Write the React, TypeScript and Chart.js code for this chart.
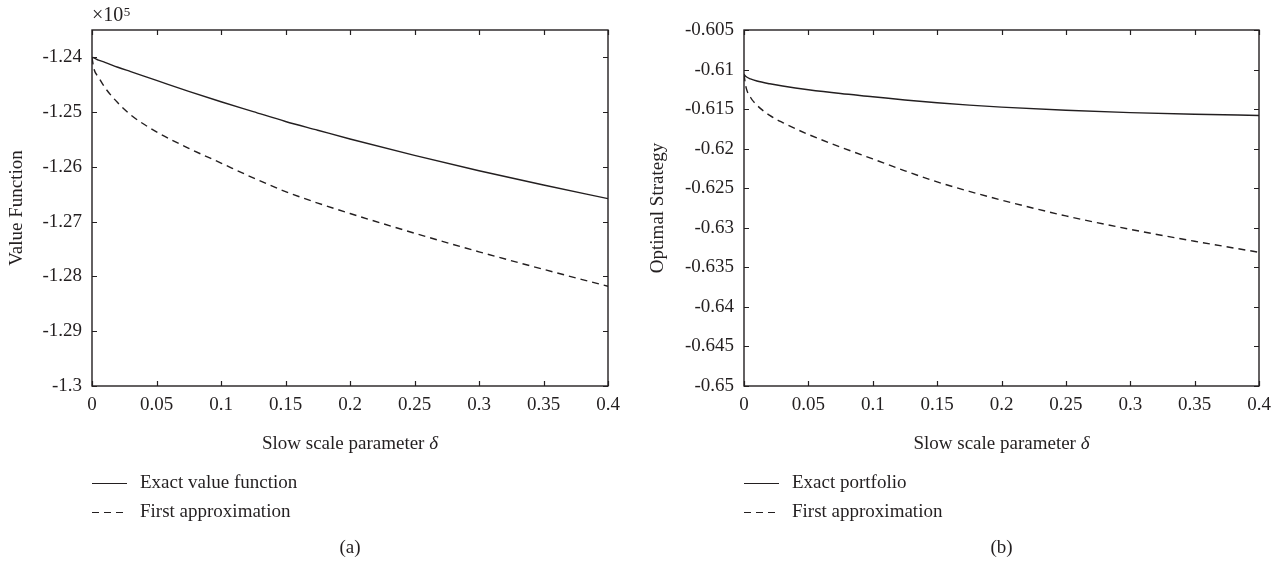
import React, { useEffect, useRef } from "react";
import { Chart, registerables } from "chart.js";

Chart.register(...registerables);

// ---------- data ----------
const deltaValues = [0, 0.0015, 0.005, 0.01, 0.02, 0.03, 0.05, 0.075, 0.1, 0.125, 0.15, 0.175, 0.2, 0.25, 0.3, 0.35, 0.4];

// panel (a): value function, in units of 10^5
const exactValueFunction = [-1.24, -1.2401, -1.2405, -1.2409, -1.2418, -1.2426, -1.2442, -1.2462, -1.2481, -1.2499, -1.2517, -1.2533, -1.2549, -1.2579, -1.2607, -1.2633, -1.2658];
const firstApproxValue = [-1.24, -1.2421, -1.2436, -1.2455, -1.2483, -1.2505, -1.2536, -1.2566, -1.2593, -1.262, -1.2645, -1.2666, -1.2685, -1.2721, -1.2755, -1.2787, -1.2818];

// panel (b): optimal strategy
const exactPortfolio = [-0.6106, -0.61088, -0.61118, -0.61145, -0.6118, -0.61208, -0.61255, -0.61303, -0.61343, -0.61385, -0.6142, -0.6145, -0.61475, -0.61515, -0.61545, -0.61565, -0.6158];
const firstApproxPortfolio = [-0.6106, -0.6122, -0.6135, -0.6145, -0.6158, -0.6167, -0.6182, -0.6198, -0.6213, -0.6228, -0.6242, -0.6254, -0.6265, -0.6285, -0.6302, -0.6317, -0.6331];

const xTicks = [0, 0.05, 0.1, 0.15, 0.2, 0.25, 0.3, 0.35, 0.4];
const yTicksA = [-1.3, -1.29, -1.28, -1.27, -1.26, -1.25, -1.24];
const yTicksB = [-0.65, -0.645, -0.64, -0.635, -0.63, -0.625, -0.62, -0.615, -0.61, -0.605];

const legendA = ["Exact value function", "First approximation"];
const legendB = ["Exact portfolio", "First approximation"];

// ---------- styling ----------
const FONT = '"Liberation Serif", "Times New Roman", serif';
const INK = "#231f20";
const DASH = [7, 5];

const fmt = (v: number) => {
  const s = parseFloat(Number(v).toFixed(4)).toString();
  return s === "-0" ? "0" : s;
};

const decorPlugin = {
  id: "decor",
  afterDraw(chart: any, _args: any, opts: any) {
    const { ctx, chartArea: a, scales } = chart;
    const xs = scales.x;
    const ys = scales.y;
    ctx.save();
    // box
    ctx.strokeStyle = INK;
    ctx.lineWidth = 1.4;
    ctx.setLineDash([]);
    ctx.strokeRect(a.left, a.top, a.right - a.left, a.bottom - a.top);
    // inward ticks
    ctx.lineWidth = 1.2;
    const tl = 5;
    ctx.beginPath();
    for (const v of opts.xTicks) {
      const px = Math.round(xs.getPixelForValue(v)) + 0.5;
      ctx.moveTo(px, a.bottom);
      ctx.lineTo(px, a.bottom - tl);
      ctx.moveTo(px, a.top);
      ctx.lineTo(px, a.top + tl);
    }
    for (const v of opts.yTicks) {
      const py = Math.round(ys.getPixelForValue(v)) + 0.5;
      ctx.moveTo(a.left, py);
      ctx.lineTo(a.left + tl, py);
      ctx.moveTo(a.right, py);
      ctx.lineTo(a.right - tl, py);
    }
    ctx.stroke();

    const cx = (a.left + a.right) / 2;
    ctx.fillStyle = INK;
    ctx.textBaseline = "middle";

    // x title with italic delta
    const normal = "19px " + FONT;
    const italic = "italic 19px " + FONT;
    const t1 = "Slow scale parameter ";
    const t2 = "\u03b4";
    ctx.font = normal;
    const w1 = ctx.measureText(t1).width;
    ctx.font = italic;
    const w2 = ctx.measureText(t2).width;
    const sx = cx - (w1 + w2) / 2;
    ctx.textAlign = "left";
    ctx.font = normal;
    ctx.fillText(t1, sx, opts.xTitleY);
    ctx.font = italic;
    ctx.fillText(t2, sx + w1, opts.xTitleY);

    // legend
    const ds = chart.data.datasets;
    ds.forEach((d: any, i: number) => {
      const ly = opts.legendY + i * opts.legendGap;
      ctx.beginPath();
      ctx.lineWidth = 1.2;
      ctx.setLineDash(d.borderDash || []);
      ctx.moveTo(a.left, Math.round(ly) + 0.5);
      ctx.lineTo(a.left + 35, Math.round(ly) + 0.5);
      ctx.stroke();
      ctx.setLineDash([]);
      ctx.font = normal;
      ctx.textAlign = "left";
      ctx.fillText(d.label, a.left + 48, ly);
    });

    // caption
    ctx.textAlign = "center";
    ctx.font = normal;
    ctx.fillText(opts.caption, cx, opts.captionY);

    // exponent
    if (opts.exponent) {
      ctx.textAlign = "left";
      ctx.textBaseline = "alphabetic";
      ctx.font = "20px " + FONT;
      const base = "\u00d710";
      ctx.fillText(base, a.left, 21);
      const bw = ctx.measureText(base).width;
      ctx.font = "13px " + FONT;
      ctx.fillText(opts.exponent, a.left + bw + 0.5, 16);
    }
    ctx.restore();
  },
};

type PanelProps = {
  left: number;
  width: number;
  yAxisWidth: number;
  rightPad: number;
  seriesA: number[];
  seriesB: number[];
  labels: string[];
  yTicks: number[];
  yMin: number;
  yMax: number;
  yTitle: string;
  caption: string;
  exponent?: string;
};

function Panel(p: PanelProps) {
  const ref = useRef<HTMLCanvasElement | null>(null);
  useEffect(() => {
    if (!ref.current) return;
    const toPts = (arr: number[]) => deltaValues.map((x, i) => ({ x, y: arr[i] }));
    const chart = new Chart(ref.current, {
      type: "line",
      data: {
        datasets: [
          {
            label: p.labels[0],
            data: toPts(p.seriesA),
            borderColor: INK,
            borderWidth: 1.4,
            pointRadius: 0,
            cubicInterpolationMode: "monotone",
            fill: false,
          },
          {
            label: p.labels[1],
            data: toPts(p.seriesB),
            borderColor: INK,
            borderWidth: 1.4,
            borderDash: DASH,
            pointRadius: 0,
            cubicInterpolationMode: "monotone",
            fill: false,
          },
        ],
      },
      options: {
        responsive: false,
        animation: false,
        events: [],
        layout: { padding: { left: 0, top: 30, right: p.rightPad, bottom: 0 } },
        plugins: {
          legend: { display: false },
          tooltip: { enabled: false },
          decor: {
            xTicks,
            yTicks: p.yTicks,
            xTitleY: 444,
            legendY: 483,
            legendGap: 29,
            caption: p.caption,
            captionY: 548,
            exponent: p.exponent,
          },
        } as any,
        scales: {
          x: {
            type: "linear",
            min: 0,
            max: 0.4,
            grid: { display: false, drawTicks: false },
            border: { display: false },
            afterBuildTicks: (s: any) => {
              s.ticks = xTicks.map((v) => ({ value: v }));
            },
            afterFit: (s: any) => {
              s.height = 176;
            },
            ticks: {
              autoSkip: false,
              maxRotation: 0,
              padding: 8,
              color: INK,
              font: { family: FONT, size: 19 },
              callback: (v: any) => fmt(v),
            },
          },
          y: {
            type: "linear",
            min: p.yMin,
            max: p.yMax,
            grid: { display: false, drawTicks: false },
            border: { display: false },
            afterBuildTicks: (s: any) => {
              s.ticks = p.yTicks.map((v) => ({ value: v }));
            },
            afterFit: (s: any) => {
              s.width = p.yAxisWidth;
            },
            title: {
              display: true,
              text: p.yTitle,
              color: INK,
              font: { family: FONT, size: 19 },
              padding: { top: 6, bottom: 0 },
            },
            ticks: {
              autoSkip: false,
              padding: 10,
              color: INK,
              font: { family: FONT, size: 19 },
              callback: (v: any) => fmt(v),
            },
          },
        },
      },
      plugins: [decorPlugin],
    } as any);
    return () => chart.destroy();
  }, []);
  return (
    <canvas
      ref={ref}
      width={p.width}
      height={562}
      style={{ position: "absolute", left: p.left, top: 0, width: p.width, height: 562, display: "block" }}
    />
  );
}

export default function App() {
  return (
    <div style={{ position: "absolute", left: 0, top: 0, width: 1283, height: 562, background: "#fff", overflow: "hidden" }}>
      <Panel
        left={0}
        width={641}
        yAxisWidth={92}
        rightPad={33}
        seriesA={exactValueFunction}
        seriesB={firstApproxValue}
        labels={legendA}
        yTicks={yTicksA}
        yMin={-1.3}
        yMax={-1.235}
        yTitle="Value Function"
        caption="(a)"
        exponent="5"
      />
      <Panel
        left={641}
        width={642}
        yAxisWidth={103}
        rightPad={24}
        seriesA={exactPortfolio}
        seriesB={firstApproxPortfolio}
        labels={legendB}
        yTicks={yTicksB}
        yMin={-0.65}
        yMax={-0.605}
        yTitle="Optimal Strategy"
        caption="(b)"
      />
    </div>
  );
}
